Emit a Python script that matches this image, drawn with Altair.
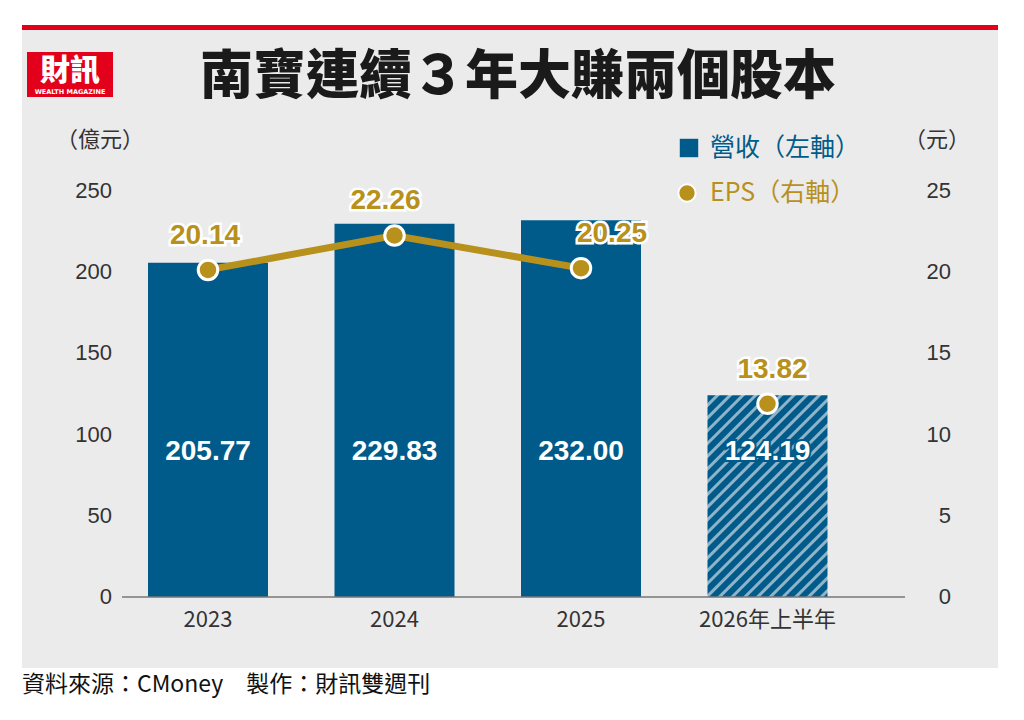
import pandas as pd
import altair as alt

years = ["2023", "2024", "2025", "2026年上半年"]
revenue = [205.77, 229.83, 232.00, 124.19]
revenue_labels = ["205.77", "229.83", "232.00", "124.19"]
eps_pos = [20.14, 22.26, 20.25, 11.9]
eps_labels = ["20.14", "22.26", "20.25", "13.82"]
eps_dx = [-3, -9, 31, 5]
left_ticks = [0, 50, 100, 150, 200, 250]
right_ticks = [0, 5, 10, 15, 20, 25]

BLUE = "#005b8a"
GOLD = "#b8901c"
FONT = "Noto Sans CJK TC"
STEP = 186.5
HALF_BAR = 60 / STEP

df = pd.DataFrame({
    "i": range(4), "year": years, "rev": revenue, "rev_label": revenue_labels,
    "eps": eps_pos, "eps_label": eps_labels, "dx": eps_dx,
    "fill": [BLUE, BLUE, BLUE, "url(#hatch)"],
    "halo": ["none", "none", "none", BLUE],
})
df["epsx"] = df["i"] + df["dx"] / STEP
df["x0"] = df["i"] - HALF_BAR
df["x1"] = df["i"] + HALF_BAR
ticks = pd.DataFrame({"l": left_ticks, "r": right_ticks})

xs = alt.Scale(domain=[0, 3], range=[200, 200 + 3 * STEP])
ys = alt.Scale(domain=[0, 250], range=[589, 183])
ers = alt.Scale(domain=[0, 25], range=[589, 183])
X = alt.X("i:Q", scale=xs, axis=None)
one = pd.DataFrame({"a": [0]})

def fixed(**kw):
    return alt.Chart(one).encode(**{k: alt.value(v) for k, v in kw.items()})

panel = fixed(x=14, x2=990, y=22, y2=660).mark_rect(color="#ebebeb")
redline = fixed(x=14, x2=990, y=17, y2=22).mark_rect(color="#e3001b")
logo = fixed(x=19, x2=105, y=44, y2=89).mark_rect(color="#e3001b")
logo_t = fixed(x=62, y=63).mark_text(text="財訊", font=FONT, fontSize=30, fontWeight=900, color="white")
logo_s = fixed(x=62, y=84).mark_text(text="WEALTH MAGAZINE", font="DejaVu Sans", fontSize=6.5, fontWeight="bold", color="white")
title = fixed(x=510, y=70).mark_text(text="南寶連續３年大賺兩個股本", font=FONT, fontSize=53, fontWeight=900, color="#1a1a1a")
unit_l = fixed(x=92, y=132).mark_text(text="（億元）", font=FONT, fontSize=22, color="#333")
unit_r = fixed(x=929, y=132).mark_text(text="（元）", font=FONT, fontSize=22, color="#333")
leg1 = fixed(x=681, y=140).mark_square(size=340, color=BLUE, opacity=1)
leg1t = fixed(x=702, y=140).mark_text(text="營收（左軸）", font=FONT, fontSize=25, align="left", color=BLUE)
leg2 = fixed(x=679, y=185).mark_circle(size=300, color=GOLD, stroke="white", strokeWidth=2, opacity=1)
leg2t = fixed(x=702, y=185).mark_text(text="EPS（右軸）", font=FONT, fontSize=25, align="left", color=GOLD)
source = fixed(x=14, y=677).mark_text(text="資料來源：CMoney　製作：財訊雙週刊", font=FONT, fontSize=23, align="left", color="#111")

base = alt.Chart(df)
bars = base.mark_rect().encode(
    x=alt.X("x0:Q", scale=xs, axis=None), x2="x1:Q",
    y=alt.Y("rev:Q", scale=ys, axis=None), y2=alt.datum(0),
    fill=alt.Color("fill:N", scale=None))
bar_halo = base.mark_text(font="Liberation Sans", fontSize=28, fontWeight="bold", strokeWidth=4).encode(
    X, y=alt.value(444), text="rev_label:N",
    fill=alt.Color("halo:N", scale=None), stroke=alt.Color("halo:N", scale=None))
bar_text = base.mark_text(font="Liberation Sans", fontSize=28, fontWeight="bold", color="white").encode(
    X, y=alt.value(444), text="rev_label:N")
baseline = fixed(x=114, x2=897, y=589).mark_rule(color="#777", strokeWidth=1.5)
xlab = base.mark_text(font=FONT, fontSize=22, color="#333").encode(X, y=alt.value(612), text="year:N")

line = base.transform_filter("datum.i < 3").mark_line(color=GOLD, strokeWidth=7).encode(
    X, y=alt.Y("eps:Q", scale=ers, axis=None))
pts = base.mark_circle(size=380, color=GOLD, stroke="white", strokeWidth=3, opacity=1).encode(
    X, y=alt.Y("eps:Q", scale=ers, axis=None))
eps_halo = base.mark_text(font="Liberation Sans", fontSize=28, fontWeight="bold", dy=-34,
                          stroke="white", strokeWidth=5, color="white").encode(
    x=alt.X("epsx:Q", scale=xs, axis=None), y=alt.Y("eps:Q", scale=ers, axis=None), text="eps_label:N")
eps_text = base.mark_text(font="Liberation Sans", fontSize=28, fontWeight="bold", dy=-34, color=GOLD).encode(
    x=alt.X("epsx:Q", scale=xs, axis=None), y=alt.Y("eps:Q", scale=ers, axis=None), text="eps_label:N")

tl = alt.Chart(ticks).mark_text(font="Liberation Sans", fontSize=22, align="right", color="#333").encode(
    x=alt.value(104), y=alt.Y("l:Q", scale=ys, axis=None), text="l:Q")
tr = alt.Chart(ticks).mark_text(font="Liberation Sans", fontSize=22, align="right", color="#333").encode(
    x=alt.value(943), y=alt.Y("r:Q", scale=ers, axis=None), text="r:Q")

chart = alt.layer(
    panel, redline, logo, logo_t, logo_s, title, unit_l, unit_r, leg1, leg1t, leg2, leg2t, source,
    bars, baseline, bar_halo, bar_text, xlab, line, pts, eps_halo, eps_text, tl, tr,
).resolve_scale(y="independent", x="independent").properties(
    width=1008, height=704, autosize="none", padding=0, background="white"
).configure_view(stroke=None)

chart.save("out.html", embed_options={"renderer": "svg", "actions": False})

defs = ('<svg width="0" height="0" style="position:absolute"><defs>'
        '<pattern id="hatch" patternUnits="userSpaceOnUse" width="9" height="9" patternTransform="rotate(45)">'
        '<rect width="9" height="9" fill="#005b8a"/><rect width="3" height="9" fill="#8fb3c9"/>'
        '</pattern></defs></svg>')
with open("out.html", encoding="utf-8") as f:
    html = f.read()
html = html.replace("<body>", "<body>" + defs, 1)
with open("out.html", "w", encoding="utf-8") as f:
    f.write(html)
